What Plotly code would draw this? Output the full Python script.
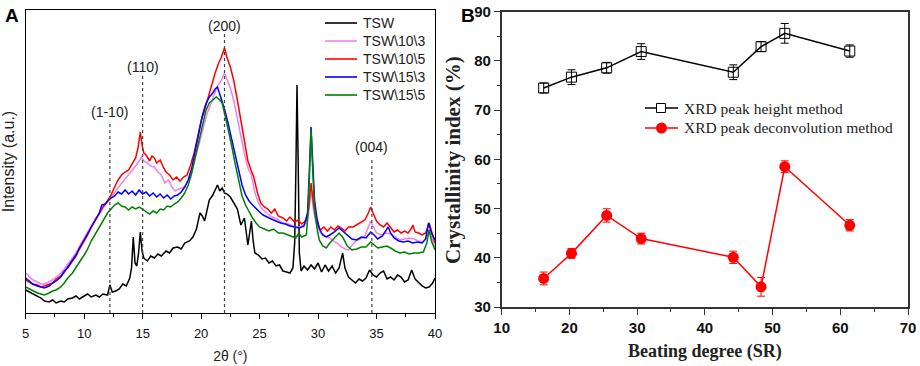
import plotly.graph_objects as go

# ---------------- Panel A data (XRD patterns, 2theta vs intensity a.u.) ----------------
tsw_pts = [(5, 23), (5.3, 21), (5.6, 19), (6, 17), (6.3, 15), (6.6, 12), (7, 11), (7.3, 13), (7.6, 10), (8, 12),
           (8.3, 11), (8.6, 14), (9, 15), (9.3, 17), (9.6, 14), (10, 17), (10.3, 19), (10.6, 16), (11, 18),
           (11.3, 16), (11.6, 19), (12, 18), (12.2, 28), (12.4, 21), (12.7, 22), (13, 24), (13.3, 29), (13.6, 27),
           (13.9, 35), (14.05, 45), (14.2, 76), (14.35, 50), (14.5, 47), (14.65, 60), (14.8, 81), (14.95, 62),
           (15.1, 55), (15.4, 52), (15.7, 57), (16, 55), (16.3, 59), (16.6, 57), (17, 62), (17.3, 60), (17.6, 65),
           (18, 66), (18.3, 64), (18.6, 70), (19, 72), (19.3, 76), (19.6, 84), (19.9, 100), (20.1, 97), (20.3, 92),
           (20.5, 104), (20.7, 113), (21, 118), (21.2, 124), (21.4, 128), (21.6, 122), (21.8, 125), (22, 120),
           (22.2, 119), (22.5, 116), (22.8, 110), (23.1, 104), (23.4, 88), (23.7, 95), (24, 68), (24.15, 80),
           (24.3, 92), (24.45, 72), (24.6, 60), (24.9, 58), (25.2, 54), (25.5, 55), (25.8, 50), (26.1, 52),
           (26.4, 47), (26.7, 48), (27, 42), (27.3, 41), (27.6, 40), (27.85, 45), (28.0, 70), (28.1, 140),
           (28.2, 228), (28.3, 150), (28.4, 60), (28.55, 42), (28.8, 47), (29.1, 43), (29.4, 48), (29.7, 44),
           (30, 50), (30.3, 41), (30.6, 48), (30.9, 42), (31.2, 47), (31.5, 40), (31.8, 45), (32.1, 60), (32.3, 45),
           (32.6, 36), (32.9, 33), (33.2, 30), (33.5, 34), (33.8, 32), (34.1, 35), (34.4, 43), (34.7, 38), (35, 36),
           (35.3, 40), (35.6, 42), (35.9, 34), (36.2, 36), (36.5, 33), (36.8, 38), (37.1, 36), (37.4, 31),
           (37.7, 33), (38, 43), (38.3, 34), (38.6, 30), (38.9, 27), (39.2, 25), (39.5, 26), (39.8, 30), (40, 35)]

t103_pts = [(5, 40), (5.3, 36), (5.6, 33), (6, 31), (6.3, 29), (6.6, 29), (7, 31), (7.3, 33), (7.6, 36), (8, 40),
            (8.3, 44), (8.6, 49), (9, 55), (9.3, 60), (9.6, 67), (10, 75), (10.3, 80), (10.6, 87), (11, 95),
            (11.3, 99), (11.6, 105), (12, 111), (12.3, 116), (12.6, 121), (12.9, 126), (13.2, 130), (13.5, 134),
            (13.8, 138), (14.1, 142), (14.4, 147), (14.7, 152), (14.9, 156), (15.1, 152), (15.4, 150), (15.7, 147),
            (16, 146), (16.3, 141), (16.6, 138), (16.9, 130), (17.2, 133), (17.5, 126), (17.8, 122), (18.1, 124),
            (18.4, 125), (18.7, 128), (19, 136), (19.3, 146), (19.6, 158), (19.9, 172), (20.2, 186), (20.5, 199),
            (20.8, 208), (21.1, 218), (21.4, 227), (21.7, 232), (22, 240), (22.2, 234), (22.5, 225), (22.8, 212),
            (23.1, 196), (23.4, 177), (23.7, 160), (24, 145), (24.3, 138), (24.6, 120), (24.9, 110), (25.2, 104),
            (25.5, 101), (25.8, 98), (26.1, 96), (26.5, 94), (27, 90), (27.5, 89), (28, 86), (28.5, 86), (29, 90),
            (29.2, 100), (29.4, 124), (29.6, 104), (29.8, 91), (30.2, 80), (30.6, 77), (31, 75), (31.3, 72),
            (31.6, 70), (32, 66), (32.3, 64), (32.6, 63), (32.9, 68), (33.2, 72), (33.6, 74), (34, 77), (34.3, 86),
            (34.5, 92), (34.7, 87), (35, 80), (35.4, 78), (35.8, 80), (36.2, 79), (36.6, 76), (37, 73), (37.4, 74),
            (37.8, 75), (38.2, 74), (38.6, 72), (39, 71), (39.3, 76), (39.5, 83), (39.7, 76), (40, 66)]

t105_pts = [(5, 33), (5.3, 31), (5.6, 29), (6, 28), (6.3, 26), (6.6, 27), (7, 29), (7.3, 30), (7.6, 34), (8, 37),
            (8.3, 42), (8.6, 45), (9, 52), (9.3, 57), (9.6, 64), (10, 72), (10.3, 78), (10.6, 86), (11, 94),
            (11.3, 99), (11.6, 106), (12, 112), (12.3, 118), (12.6, 126), (12.9, 133), (13.2, 138), (13.5, 141),
            (13.8, 143), (14.1, 149), (14.4, 155), (14.6, 165), (14.8, 181), (14.95, 168), (15.1, 160), (15.3, 158),
            (15.6, 152), (15.8, 157), (16, 155), (16.2, 150), (16.5, 153), (16.8, 145), (17, 141), (17.3, 138),
            (17.6, 133), (17.9, 136), (18.2, 132), (18.5, 136), (18.8, 138), (19.1, 148), (19.4, 160), (19.7, 176),
            (20, 192), (20.3, 203), (20.6, 216), (20.9, 228), (21.2, 240), (21.5, 250), (21.7, 255), (22, 265),
            (22.2, 256), (22.5, 246), (22.8, 232), (23.1, 213), (23.4, 194), (23.7, 172), (24, 152), (24.3, 142),
            (24.5, 136), (24.8, 121), (25.1, 110), (25.4, 106), (25.7, 104), (26, 100), (26.3, 104), (26.6, 97),
            (27, 95), (27.3, 92), (27.6, 96), (28, 91), (28.3, 93), (28.6, 89), (29, 93), (29.2, 105), (29.4, 130),
            (29.6, 110), (29.8, 95), (30, 88), (30.2, 83), (30.5, 86), (30.8, 82), (31.1, 86), (31.4, 83),
            (31.7, 87), (32, 85), (32.3, 82), (32.6, 86), (33, 86), (33.3, 88), (33.6, 90), (34, 93), (34.3, 100),
            (34.5, 106), (34.7, 100), (35, 92), (35.3, 88), (35.6, 86), (35.9, 90), (36.2, 85), (36.5, 81),
            (36.8, 83), (37.1, 80), (37.4, 82), (37.7, 80), (38, 85), (38.1, 88), (38.3, 81), (38.6, 80),
            (38.9, 78), (39.2, 80), (39.5, 90), (39.7, 82), (40, 70)]

t153_pts = [(5, 35), (5.3, 32), (5.6, 29), (6, 27), (6.3, 26), (6.6, 25), (7, 27), (7.3, 30), (7.6, 32), (8, 36),
            (8.3, 41), (8.6, 46), (9, 53), (9.3, 58), (9.6, 65), (10, 73), (10.3, 79), (10.6, 85), (11, 93),
            (11.3, 100), (11.5, 108), (11.8, 109), (12, 112), (12.3, 115), (12.6, 117), (12.9, 121), (13.2, 119),
            (13.5, 123), (13.8, 119), (14.1, 122), (14.4, 118), (14.7, 123), (15, 119), (15.3, 121), (15.6, 117),
            (15.9, 120), (16.2, 116), (16.5, 119), (16.8, 115), (17.1, 118), (17.4, 114), (17.7, 117), (18, 118),
            (18.3, 121), (18.6, 126), (18.9, 133), (19.2, 145), (19.5, 163), (19.8, 180), (20.1, 197), (20.4, 209),
            (20.7, 216), (21, 220), (21.2, 224), (21.4, 226), (21.6, 219), (21.8, 213), (22, 204), (22.3, 190),
            (22.6, 175), (22.9, 158), (23.2, 142), (23.5, 128), (23.8, 118), (24.1, 112), (24.4, 108), (24.7, 104),
            (25, 101), (25.3, 98), (25.6, 96), (26, 94), (26.4, 92), (26.8, 90), (27.2, 89), (27.6, 87), (28, 86),
            (28.4, 85), (28.8, 87), (29.1, 100), (29.25, 140), (29.4, 186), (29.55, 150), (29.7, 113), (29.9, 95),
            (30.1, 85), (30.4, 78), (30.7, 76), (31, 78), (31.4, 81), (31.8, 85), (32.1, 82), (32.5, 78),
            (32.9, 74), (33.3, 73), (33.7, 76), (34.1, 75), (34.5, 81), (34.8, 78), (35.1, 74), (35.5, 77),
            (35.8, 82), (36, 86), (36.2, 80), (36.5, 75), (36.9, 72), (37.3, 71), (37.7, 72), (38.1, 70),
            (38.5, 71), (38.9, 70), (39.2, 74), (39.45, 90), (39.7, 80), (40, 73)]

t155_pts = [(5, 26), (5.3, 24), (5.6, 22), (6, 20), (6.3, 19), (6.6, 18), (7, 20), (7.3, 22), (7.6, 23), (8, 26),
            (8.3, 30), (8.6, 35), (9, 40), (9.3, 45), (9.6, 51), (10, 58), (10.3, 64), (10.6, 72), (11, 80),
            (11.3, 86), (11.6, 93), (12, 100), (12.3, 104), (12.6, 108), (12.9, 110), (13.2, 107), (13.5, 106),
            (13.8, 103), (14.1, 106), (14.4, 104), (14.7, 106), (15, 104), (15.3, 101), (15.6, 99), (15.9, 102),
            (16.2, 100), (16.5, 104), (16.8, 103), (17.1, 107), (17.4, 106), (17.7, 109), (18, 111), (18.3, 115),
            (18.6, 120), (18.9, 128), (19.2, 140), (19.5, 156), (19.8, 172), (20.1, 188), (20.4, 202), (20.7, 210),
            (21, 213), (21.3, 216), (21.6, 213), (21.8, 210), (22, 200), (22.3, 185), (22.6, 168), (22.9, 150),
            (23.2, 133), (23.5, 117), (23.8, 108), (24.1, 101), (24.4, 95), (24.7, 90), (25, 86), (25.4, 84),
            (25.8, 82), (26.2, 84), (26.6, 80), (27, 80), (27.4, 78), (27.8, 76), (28.1, 75), (28.35, 80),
            (28.6, 76), (29, 78), (29.15, 100), (29.3, 150), (29.4, 183), (29.55, 140), (29.7, 106), (29.9, 85),
            (30.1, 73), (30.4, 67), (30.7, 65), (31, 70), (31.4, 75), (31.8, 80), (32.1, 76), (32.5, 67),
            (32.9, 63), (33.3, 64), (33.7, 66), (34.1, 66), (34.5, 71), (34.8, 68), (35.1, 65), (35.5, 66),
            (35.9, 67), (36.2, 65), (36.6, 62), (37, 60), (37.4, 61), (37.8, 59), (38.2, 60), (38.6, 60), (39, 61),
            (39.3, 70), (39.5, 83), (39.7, 72), (40, 63)]

series_names = ["TSW", "TSW\\10\\3", "TSW\\10\\5", "TSW\\15\\3", "TSW\\15\\5"]
series_pts = [tsw_pts, t103_pts, t105_pts, t153_pts, t155_pts]
series_colors = ["#000000", "#ee82ee", "#ff0000", "#0000ff", "#008000"]

refl_labels = ["(1-10)", "(110)", "(200)", "(004)"]
refl_pos = [12.2, 15.0, 22.0, 34.6]

# ---------------- Panel B data (crystallinity index vs beating degree) ----------------
sr = [16.2, 20.3, 25.5, 30.6, 44.2, 48.3, 51.8, 61.4]
ci_height = [74.5, 76.7, 78.6, 81.9, 77.7, 82.9, 85.6, 82.0]
ci_height_err = [1.0, 1.5, 1.1, 1.6, 1.5, 1.0, 2.0, 1.25]
ci_deconv = [35.8, 40.9, 48.6, 43.9, 40.1, 34.1, 58.5, 46.6]
ci_deconv_err = [1.3, 1.0, 1.35, 1.1, 1.25, 1.9, 1.2, 1.15]
method_names = ["XRD peak height method", "XRD peak deconvolution method"]

W, H = 920, 366
sans = "Liberation Sans, Arial"
serif = "Liberation Serif, Times New Roman"


def px(x):
    return x / W


def py(y):
    return 1 - y / H


fig = go.Figure()

for name, pts, col in zip(series_names, series_pts, series_colors):
    fig.add_trace(go.Scatter(x=[p[0] for p in pts], y=[p[1] for p in pts], mode="lines", name=name,
                             line=dict(color=col, width=1.5), showlegend=False,
                             xaxis="x", yaxis="y"))

fig.add_trace(go.Scatter(x=sr, y=ci_height, mode="lines+markers", name=method_names[0],
                         line=dict(color="#000000", width=1.5), showlegend=False,
                         marker=dict(symbol="square-open", size=10, color="#000000", line=dict(width=1)),
                         error_y=dict(type="data", array=ci_height_err, color="#000000", thickness=1, width=4),
                         xaxis="x2", yaxis="y2"))
fig.add_trace(go.Scatter(x=sr, y=ci_deconv, mode="lines+markers", name=method_names[1],
                         line=dict(color="#ff0000", width=1.5), showlegend=False,
                         marker=dict(symbol="circle", size=11, color="#ff0000"),
                         error_y=dict(type="data", array=ci_deconv_err, color="#ff0000", thickness=1, width=4),
                         xaxis="x2", yaxis="y2"))

shapes = []
annots = []

# reflection markers (dotted guide lines + Miller indices)
line_tops = [190, 237, 283, 154]
label_y = [201, 246, 287, 166]
for lab, pos, top, ly in zip(refl_labels, refl_pos, line_tops, label_y):
    shapes.append(dict(type="line", xref="x", yref="y", x0=pos, x1=pos, y0=0, y1=top,
                       line=dict(color="#444444", width=1.2, dash="dot")))
    annots.append(dict(x=pos, y=ly, xref="x", yref="y", text=lab, showarrow=False,
                       font=dict(family=sans, size=14, color="#222")))

# legend of panel A
for i, (name, col) in enumerate(zip(series_names, series_colors)):
    yy = 23 + 18 * i
    shapes.append(dict(type="line", xref="paper", yref="paper", x0=px(325), x1=px(357), y0=py(yy), y1=py(yy),
                       line=dict(color=col, width=1.6)))
    annots.append(dict(x=px(361), y=py(yy), xref="paper", yref="paper", text=name, showarrow=False,
                       xanchor="left", yanchor="middle", font=dict(family=sans, size=14, color="#222")))

# legend of panel B
leg_cols = ["#000000", "#ff0000"]
for i, (name, col) in enumerate(zip(method_names, leg_cols)):
    yy = 108 + 20 * i
    shapes.append(dict(type="line", xref="paper", yref="paper", x0=px(645), x1=px(678), y0=py(yy), y1=py(yy),
                       line=dict(color=col, width=1.5)))
    if i == 0:
        shapes.append(dict(type="rect", xref="paper", yref="paper", x0=px(656.5), x1=px(665.5),
                           y0=py(yy + 4.5), y1=py(yy - 4.5), fillcolor="white", line=dict(color=col, width=1)))
    else:
        shapes.append(dict(type="circle", xref="paper", yref="paper", x0=px(656), x1=px(667),
                           y0=py(yy + 5.5), y1=py(yy - 5.5), fillcolor=col, line=dict(color=col, width=0)))
    annots.append(dict(x=px(682), y=py(yy), xref="paper", yref="paper", text=name, showarrow=False,
                       xanchor="left", yanchor="middle", font=dict(family=serif, size=15.5, color="#222")))

annots += [
    dict(x=px(3), y=py(3), xref="paper", yref="paper", text="<b>A</b>", showarrow=False,
         xanchor="left", yanchor="top", font=dict(family=sans, size=19, color="#000")),
    dict(x=px(459), y=py(3), xref="paper", yref="paper", text="<b>B</b>", showarrow=False,
         xanchor="left", yanchor="top", font=dict(family=sans, size=19, color="#000")),
    dict(x=px(453), y=py(160), xref="paper", yref="paper", text="<b>Crystallinity index (%)</b>",
         showarrow=False, textangle=-90, xanchor="center", yanchor="middle",
         font=dict(family=serif, size=21, color="#222")),
]

fig.update_layout(
    width=W, height=H, margin=dict(l=0, r=0, t=0, b=0, autoexpand=False),
    paper_bgcolor="white", plot_bgcolor="white",
    showlegend=False,
    xaxis=dict(domain=[px(25.7), px(435)], range=[5, 40], dtick=5, tick0=5, automargin=False,
               showline=True, linecolor="#000", linewidth=1.2, mirror=True,
               ticks="outside", ticklen=5, tickcolor="#000", showgrid=False, zeroline=False,
               ticklabelstandoff=3,
               minor=dict(dtick=2.5, ticks="outside", ticklen=3, tickcolor="#000"),
               tickfont=dict(family=sans, size=13, color="#111"),
               title=dict(text="2θ (°)", font=dict(family=sans, size=14, color="#222"), standoff=11)),
    yaxis=dict(domain=[py(313), py(10)], range=[0, 303], showticklabels=False, ticks="",
               automargin=False,
               showline=True, linecolor="#000", linewidth=1.2, mirror=True, showgrid=False, zeroline=False,
               title=dict(text="Intensity (a.u.)", font=dict(family=sans, size=16, color="#222"), standoff=6)),
    xaxis2=dict(domain=[px(501.7), px(908)], range=[10, 70], dtick=10, tick0=10, anchor="y2", automargin=False,
                showline=True, linecolor="#333", linewidth=1.5, mirror=True,
                ticks="outside", ticklen=6, tickcolor="#333", showgrid=False, zeroline=False,
                minor=dict(dtick=5, ticks="outside", ticklen=3, tickcolor="#333"),
                tickfont=dict(family=sans, size=15, color="#111", weight="bold"),
                title=dict(text="<b>Beating degree (SR)</b>", font=dict(family=serif, size=18, color="#222"),
                           standoff=10)),
    yaxis2=dict(domain=[py(307), py(11.7)], range=[30, 90], dtick=10, tick0=30, anchor="x2",
                automargin=False,
                showline=True, linecolor="#333", linewidth=1.5, mirror=True,
                ticks="outside", ticklen=6, tickcolor="#333", showgrid=False, zeroline=False,
                minor=dict(dtick=5, ticks="outside", ticklen=3, tickcolor="#333"),
                tickfont=dict(family=sans, size=15, color="#111", weight="bold")),
    shapes=shapes,
    annotations=annots,
)

fig.write_html("out.html", config={"displayModeBar": False},
               post_script="document.body.style.margin='0';document.body.style.overflow='hidden';")
